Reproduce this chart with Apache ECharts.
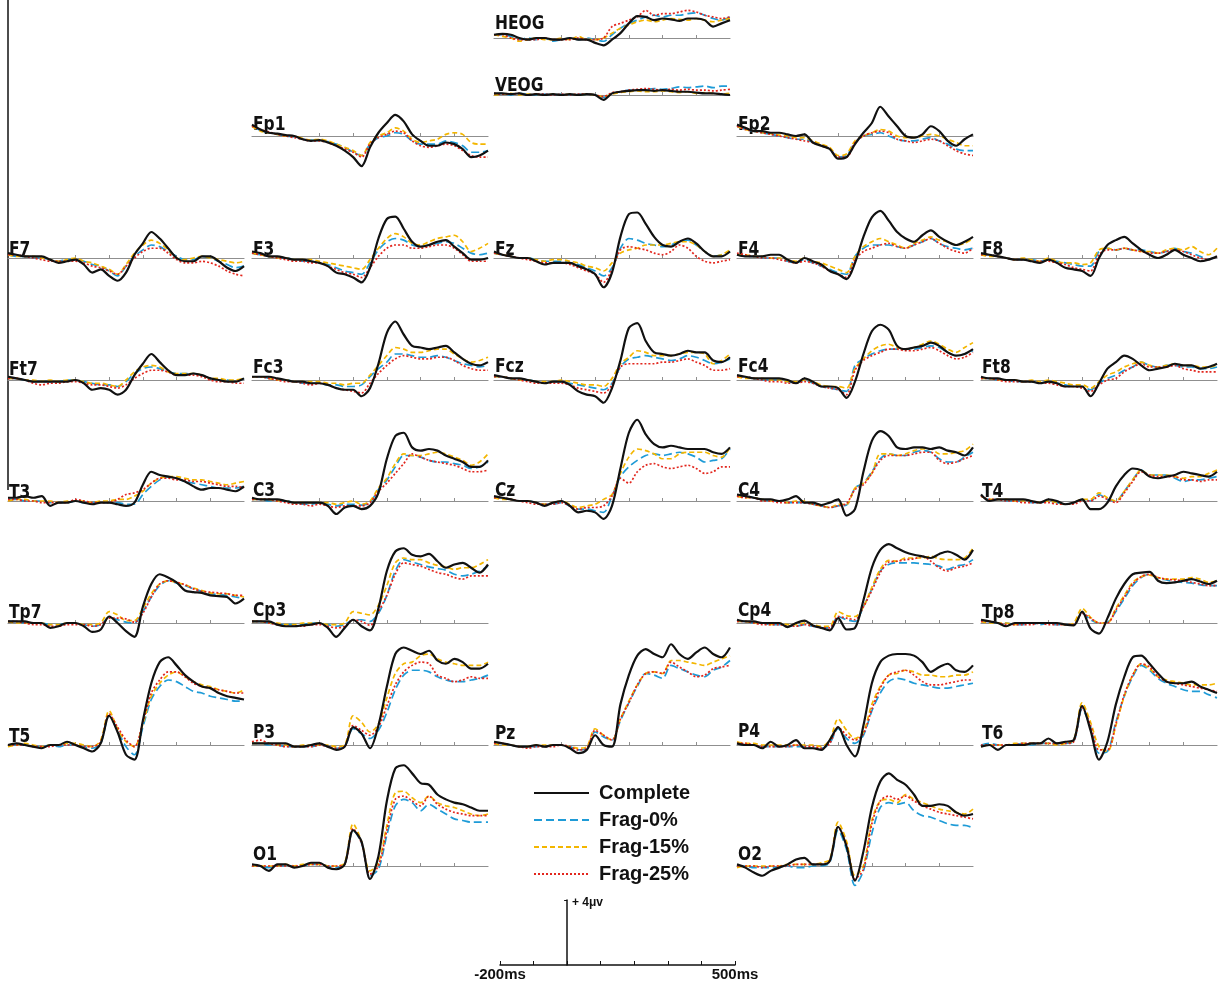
<!DOCTYPE html>
<html><head><meta charset="utf-8">
<script src="https://cdn.jsdelivr.net/npm/echarts@6/dist/echarts.min.js"></script>
<style>html,body{margin:0;padding:0;background:#fff}#c{width:1219px;height:985px}</style>
</head><body><div id="c"></div><script>
// time points (ms)
const times = [-200,-175,-150,-125,-100,-75,-50,-25,0,25,50,75,100,125,150,175,200,225,250,275,300,325,350,375,400,425,450,475,500];
const conditions = ['Complete','Frag-0%','Frag-15%','Frag-25%'];
// each channel: [Complete, Frag-0%, Frag-15%, Frag-25%] in microvolts
const HEOG = [
 [0.2,0.25,0.2,0.0,-0.1,0.0,0.0,-0.1,-0.1,0.0,-0.1,-0.1,-0.3,-0.45,-0.1,0.3,0.9,1.35,1.3,1.1,1.2,1.15,1.05,1.2,1.2,1.1,0.7,0.9,1.1],
 [0.2,0.2,0.1,-0.1,0.0,-0.1,0.0,-0.2,-0.1,0.0,-0.1,0.0,-0.1,-0.2,0.2,0.6,0.9,1.1,1.3,1.4,1.3,1.4,1.4,1.5,1.55,1.4,1.2,1.1,1.3],
 [0.2,0.1,0.0,-0.2,-0.1,0.0,-0.1,-0.1,0.0,-0.1,0.1,-0.1,-0.1,0.0,0.3,0.6,0.8,1.0,1.1,1.0,1.1,1.2,1.15,1.1,1.2,1.1,1.0,1.1,1.2],
 [0.2,0.2,0.0,-0.1,-0.1,-0.1,0.0,-0.1,-0.1,-0.1,0.0,-0.1,-0.1,0.0,0.7,0.9,1.1,1.3,1.7,1.4,1.5,1.5,1.6,1.7,1.6,1.4,1.3,1.2,1.3]];
const VEOG = [
 [0.1,0.1,0.05,0.1,0.0,0.05,0.0,0.05,0.0,0.05,0.0,0.05,0.0,-0.3,0.1,0.2,0.25,0.3,0.3,0.25,0.3,0.25,0.2,0.2,0.15,0.1,0.1,0.05,0.0],
 [0.05,0.1,0.0,0.1,0.05,0.0,0.05,0.0,0.05,0.0,0.05,0.0,0.0,-0.15,0.1,0.2,0.3,0.3,0.35,0.4,0.35,0.4,0.5,0.45,0.5,0.55,0.45,0.55,0.55],
 [0.0,0.05,0.1,0.0,0.05,0.05,0.0,0.05,0.0,0.05,0.0,0.05,0.0,-0.1,0.05,0.15,0.2,0.25,0.2,0.2,0.25,0.2,0.15,0.2,0.1,0.15,0.1,0.05,0.1],
 [0.1,0.05,0.05,0.1,0.0,0.05,0.05,0.0,0.05,0.0,0.05,0.05,0.0,-0.1,0.15,0.2,0.3,0.35,0.4,0.35,0.3,0.35,0.3,0.35,0.3,0.3,0.25,0.3,0.35]];
const Fp1 = [
 [0.7,0.4,0.2,0.15,0.05,0.0,-0.2,-0.3,-0.25,-0.4,-0.6,-0.9,-1.3,-1.85,-0.7,0.2,0.8,1.3,0.9,0.1,-0.3,-0.6,-0.6,-0.4,-0.5,-0.8,-1.3,-1.2,-0.9],
 [0.6,0.35,0.2,0.1,0.0,-0.05,-0.2,-0.25,-0.3,-0.35,-0.5,-0.7,-1.0,-1.2,-0.5,-0.1,0.0,0.2,0.1,-0.3,-0.5,-0.5,-0.5,-0.3,-0.4,-0.6,-1.0,-1.0,-0.9],
 [0.6,0.3,0.2,0.1,0.0,0.0,-0.15,-0.25,-0.2,-0.3,-0.5,-0.7,-0.9,-1.2,-0.4,0.0,0.2,0.5,0.3,-0.2,-0.4,-0.3,-0.2,0.1,0.2,0.1,-0.4,-0.5,-0.5],
 [0.6,0.4,0.25,0.1,0.0,-0.1,-0.2,-0.3,-0.3,-0.4,-0.6,-0.8,-1.0,-1.3,-0.5,-0.1,0.1,0.3,0.2,-0.3,-0.6,-0.7,-0.6,-0.5,-0.6,-0.9,-1.2,-1.3,-1.3]];
const Fp2 = [
 [0.7,0.5,0.3,0.3,0.2,0.2,0.1,0.0,0.1,-0.4,-0.6,-0.8,-1.4,-1.3,-0.5,0.2,0.8,1.8,1.2,0.6,0.0,-0.1,0.1,0.6,0.3,-0.3,-0.6,-0.2,0.1],
 [0.6,0.4,0.3,0.2,0.1,0.0,-0.1,-0.2,-0.2,-0.4,-0.6,-0.8,-1.3,-1.2,-0.4,0.0,0.1,0.2,0.0,-0.2,-0.3,-0.3,-0.2,-0.1,-0.3,-0.5,-0.8,-0.9,-0.9],
 [0.6,0.4,0.3,0.2,0.15,0.05,0.0,-0.1,-0.1,-0.3,-0.5,-0.7,-1.2,-1.1,-0.3,0.0,0.2,0.4,0.3,0.0,-0.1,-0.1,0.0,0.1,0.0,-0.2,-0.4,-0.6,-0.6],
 [0.6,0.4,0.3,0.2,0.1,0.0,-0.1,-0.2,-0.3,-0.4,-0.6,-0.8,-1.3,-1.3,-0.4,0.0,0.2,0.3,0.2,-0.2,-0.3,-0.4,-0.3,-0.2,-0.3,-0.6,-0.9,-1.1,-1.2]];
const F7 = [
 [0.3,0.2,0.1,0.1,0.1,-0.1,-0.3,-0.2,-0.1,-0.4,-0.9,-0.7,-1.1,-1.4,-0.9,0.2,0.9,1.6,1.2,0.6,0.0,-0.2,-0.2,0.1,0.1,-0.2,-0.6,-0.8,-0.5],
 [0.2,0.1,0.1,0.0,0.0,-0.1,-0.2,-0.1,-0.1,-0.2,-0.4,-0.5,-0.8,-1.1,-0.5,0.1,0.5,0.8,0.7,0.4,0.1,-0.1,-0.1,0.1,0.0,-0.2,-0.4,-0.6,-0.5],
 [0.2,0.1,0.1,0.1,0.0,-0.1,-0.2,-0.1,0.0,-0.2,-0.3,-0.5,-0.7,-1.0,-0.4,0.3,0.8,1.1,0.9,0.5,0.0,-0.1,0.0,0.1,0.0,-0.1,-0.2,-0.3,-0.2],
 [0.2,0.2,0.1,0.0,-0.1,-0.2,-0.2,-0.2,-0.2,-0.3,-0.5,-0.6,-0.8,-1.0,-0.5,0.0,0.4,0.6,0.6,0.3,-0.1,-0.3,-0.3,-0.2,-0.3,-0.5,-0.8,-1.0,-1.1]];
const F3 = [
 [0.4,0.3,0.1,0.1,0.0,-0.1,-0.1,-0.2,-0.3,-0.5,-0.9,-1.0,-1.2,-1.5,-0.6,1.2,2.4,2.55,1.8,1.0,0.7,0.8,1.0,1.1,0.7,0.3,-0.1,-0.1,0.0],
 [0.3,0.2,0.1,0.0,0.0,-0.1,-0.2,-0.2,-0.3,-0.4,-0.6,-0.8,-0.9,-1.0,-0.3,0.5,1.0,1.2,1.1,0.8,0.7,0.8,0.9,1.0,0.9,0.6,0.3,0.2,0.3],
 [0.3,0.2,0.1,0.0,0.0,-0.1,-0.1,-0.1,-0.2,-0.3,-0.4,-0.5,-0.6,-0.7,-0.1,0.6,1.2,1.5,1.3,0.9,0.8,1.0,1.2,1.3,1.4,1.0,0.4,0.6,0.9],
 [0.3,0.2,0.1,0.0,-0.1,-0.2,-0.2,-0.3,-0.3,-0.5,-0.7,-0.9,-1.0,-1.2,-0.6,0.1,0.6,0.8,0.8,0.6,0.6,0.7,0.8,0.8,0.6,0.2,-0.2,-0.2,-0.2]];
const Fz = [
 [0.4,0.2,0.1,0.0,0.0,-0.2,-0.4,-0.3,-0.3,-0.3,-0.5,-0.7,-1.0,-1.8,-0.9,1.3,2.7,2.8,2.1,1.3,0.8,0.7,1.0,1.2,0.9,0.4,0.1,0.1,0.4],
 [0.3,0.2,0.1,0.0,0.0,-0.1,-0.2,-0.2,-0.2,-0.3,-0.4,-0.6,-0.8,-1.1,-0.6,0.6,1.2,1.1,0.9,0.8,0.7,0.8,1.0,1.1,0.8,0.4,0.1,0.2,0.4],
 [0.3,0.2,0.1,0.0,0.0,-0.1,-0.2,-0.1,-0.1,-0.2,-0.3,-0.5,-0.6,-0.8,-0.3,0.3,0.5,0.6,0.8,0.8,0.8,0.9,1.0,1.0,0.8,0.4,0.1,0.2,0.5],
 [0.3,0.2,0.1,0.0,-0.1,-0.2,-0.3,-0.3,-0.3,-0.4,-0.6,-0.8,-1.0,-1.5,-0.7,0.5,0.7,0.6,0.5,0.3,0.2,0.4,0.8,0.6,0.1,-0.2,-0.3,-0.2,-0.1]];
const F4 = [
 [0.2,0.1,0.1,0.1,0.2,0.2,-0.1,-0.3,0.0,-0.2,-0.4,-0.8,-1.0,-1.3,-0.3,1.3,2.5,2.9,2.3,1.6,1.2,1.0,1.4,1.7,1.3,1.0,0.8,1.0,1.3],
 [0.2,0.1,0.1,0.0,0.0,0.0,-0.2,-0.3,-0.1,-0.3,-0.5,-0.7,-0.9,-1.0,0.1,0.6,0.8,0.8,0.8,0.7,0.6,0.8,1.0,1.2,0.9,0.7,0.6,0.5,0.6],
 [0.2,0.2,0.1,0.1,0.0,0.0,-0.1,-0.2,0.0,-0.2,-0.3,-0.5,-0.7,-0.9,0.1,0.7,1.0,1.2,1.0,0.8,0.6,0.9,1.1,1.3,1.1,1.0,0.8,0.9,1.2],
 [0.3,0.2,0.1,0.0,0.0,-0.1,-0.2,-0.3,-0.2,-0.3,-0.5,-0.8,-1.0,-1.2,-0.1,0.4,0.6,0.8,0.9,0.7,0.6,0.8,1.0,1.2,0.9,0.6,0.4,0.3,0.6]];
const F8 = [
 [0.3,0.2,0.1,0.0,-0.1,-0.1,-0.2,-0.3,-0.1,-0.3,-0.6,-0.7,-0.8,-1.1,0.0,0.8,1.1,1.3,0.9,0.5,0.2,0.0,0.2,0.5,0.2,0.0,-0.2,-0.1,0.1],
 [0.2,0.2,0.1,0.0,-0.1,-0.1,-0.1,-0.2,-0.1,-0.2,-0.3,-0.4,-0.5,-0.5,0.4,0.6,0.5,0.6,0.5,0.5,0.4,0.3,0.4,0.6,0.4,0.3,0.1,-0.1,0.1],
 [0.2,0.1,0.1,0.0,-0.1,0.0,-0.1,-0.2,0.0,-0.2,-0.3,-0.3,-0.4,-0.3,0.5,0.6,0.5,0.6,0.5,0.4,0.4,0.3,0.5,0.6,0.5,0.7,0.4,0.2,0.6],
 [0.2,0.2,0.1,0.0,-0.1,-0.1,-0.2,-0.2,-0.2,-0.3,-0.4,-0.6,-0.7,-0.8,0.2,0.5,0.5,0.6,0.5,0.4,0.3,0.3,0.4,0.5,0.4,0.2,0.0,-0.1,0.1]];
const Ft7 = [
 [0.2,0.1,0.0,-0.1,-0.1,-0.1,-0.1,-0.1,0.0,-0.2,-0.6,-0.5,-0.6,-0.9,-0.6,0.3,1.0,1.6,1.1,0.6,0.3,0.3,0.4,0.3,0.1,0.0,-0.1,-0.1,0.1],
 [0.1,0.1,0.0,-0.1,-0.1,-0.1,-0.1,0.0,0.0,-0.1,-0.2,-0.3,-0.3,-0.4,-0.1,0.4,0.7,0.8,0.7,0.5,0.4,0.4,0.4,0.3,0.1,0.0,0.0,-0.1,0.1],
 [0.1,0.1,0.0,0.0,-0.1,0.0,-0.1,0.0,0.0,-0.1,-0.2,-0.2,-0.3,-0.4,0.0,0.5,0.8,0.9,0.8,0.5,0.4,0.4,0.4,0.3,0.1,0.1,0.0,0.0,0.1],
 [0.1,0.1,0.0,-0.2,-0.3,-0.2,-0.2,-0.1,-0.1,-0.2,-0.3,-0.3,-0.4,-0.5,-0.3,0.1,0.4,0.6,0.6,0.5,0.3,0.3,0.3,0.2,0.0,-0.1,-0.1,-0.2,-0.2]];
const Fc3 = [
 [0.2,0.2,0.2,0.1,0.0,-0.1,-0.1,-0.2,-0.2,-0.3,-0.5,-0.6,-0.6,-1.0,-0.5,1.0,2.9,3.6,2.8,2.1,2.0,1.9,2.0,2.1,1.7,1.3,1.0,0.9,1.1],
 [0.2,0.2,0.1,0.0,0.0,-0.1,-0.2,-0.2,-0.2,-0.3,-0.3,-0.4,-0.4,-0.3,0.2,0.7,1.1,1.6,1.6,1.5,1.4,1.4,1.5,1.4,1.2,1.0,0.9,0.8,0.9],
 [0.2,0.2,0.1,0.0,0.0,-0.1,-0.1,-0.1,-0.1,-0.2,-0.2,-0.3,-0.2,-0.2,0.3,0.9,1.5,2.0,1.9,1.7,1.7,1.8,1.9,1.9,1.6,1.3,1.1,1.2,1.4],
 [0.2,0.2,0.1,0.0,-0.1,-0.1,-0.2,-0.3,-0.2,-0.3,-0.5,-0.6,-0.7,-0.8,-0.2,0.4,0.9,1.3,1.5,1.4,1.3,1.3,1.4,1.4,1.2,0.9,0.7,0.6,0.6]];
const Fcz = [
 [0.3,0.2,0.1,0.1,0.0,-0.1,-0.2,-0.1,-0.1,-0.3,-0.7,-0.9,-1.0,-1.4,-0.5,1.2,3.2,3.5,2.4,1.7,1.6,1.5,1.6,1.8,1.7,1.7,1.2,1.1,1.4],
 [0.2,0.2,0.1,0.0,0.0,-0.1,-0.2,-0.1,-0.1,-0.2,-0.3,-0.4,-0.5,-0.6,-0.2,0.8,1.3,1.4,1.5,1.4,1.3,1.2,1.3,1.5,1.4,1.2,1.0,1.1,1.3],
 [0.2,0.2,0.1,0.0,0.0,-0.1,-0.1,-0.1,0.0,-0.1,-0.2,-0.3,-0.3,-0.4,0.1,1.0,1.4,1.8,1.7,1.5,1.5,1.5,1.6,1.7,1.7,1.6,1.0,1.2,1.6],
 [0.2,0.2,0.1,0.0,-0.1,-0.2,-0.2,-0.2,-0.2,-0.3,-0.5,-0.6,-0.7,-0.8,-0.3,0.8,1.0,1.0,1.0,1.0,1.1,1.1,1.2,1.3,1.1,0.9,0.6,0.6,0.7]];
const Fc4 = [
 [0.3,0.2,0.1,0.1,0.1,0.1,0.0,-0.2,0.1,-0.1,-0.4,-0.4,-0.5,-1.1,-0.1,1.6,3.0,3.4,3.1,2.1,1.9,2.0,2.1,2.3,2.1,1.7,1.5,1.6,1.9],
 [0.2,0.2,0.1,0.0,0.0,0.0,-0.1,-0.2,0.0,-0.2,-0.4,-0.5,-0.6,-0.7,0.9,1.3,1.6,1.8,1.9,1.9,1.9,1.9,2.0,2.1,2.0,1.7,1.5,1.6,1.8],
 [0.2,0.1,0.1,0.1,0.0,0.0,-0.1,-0.1,0.0,-0.1,-0.3,-0.4,-0.4,-0.5,0.7,1.3,1.8,2.1,2.2,2.0,1.9,2.0,2.2,2.4,2.2,1.9,1.7,2.0,2.3],
 [0.2,0.2,0.1,0.0,-0.1,-0.1,-0.2,-0.2,-0.1,-0.2,-0.4,-0.5,-0.6,-0.9,0.6,1.2,1.5,1.7,1.9,1.9,1.8,1.8,1.9,2.0,1.8,1.5,1.3,1.4,1.7]];
const Ft8 = [
 [0.2,0.1,0.1,0.0,0.0,-0.1,-0.1,-0.2,-0.1,-0.2,-0.4,-0.4,-0.4,-1.0,-0.2,0.7,1.1,1.5,1.3,0.9,0.6,0.7,0.8,1.0,0.9,0.9,0.7,0.8,1.0],
 [0.1,0.1,0.0,0.0,-0.1,-0.1,-0.1,-0.2,-0.1,-0.2,-0.3,-0.4,-0.4,-0.6,-0.2,0.1,0.3,0.6,0.8,1.1,0.9,0.8,0.9,0.9,0.8,0.8,0.7,0.7,0.8],
 [0.1,0.1,0.0,0.0,0.0,-0.1,0.0,-0.1,0.0,-0.1,-0.2,-0.3,-0.3,-0.5,-0.1,0.3,0.5,0.8,1.0,1.1,0.9,0.8,0.9,1.0,0.9,0.9,0.8,0.8,0.9],
 [0.1,0.1,0.0,-0.1,-0.1,-0.1,-0.1,-0.2,-0.2,-0.3,-0.4,-0.4,-0.5,-0.7,-0.3,0.0,0.1,0.5,0.8,1.0,0.8,0.8,0.8,0.9,0.7,0.6,0.5,0.5,0.5]];
const T3 = [
 [0.2,0.2,0.3,0.2,0.3,-0.3,-0.1,-0.1,0.0,-0.1,-0.2,-0.1,-0.1,-0.2,-0.3,-0.1,1.0,1.8,1.6,1.5,1.4,1.2,0.9,0.7,0.8,0.8,0.7,0.6,0.9],
 [0.1,0.1,0.0,0.0,0.0,-0.1,-0.1,-0.1,0.0,-0.1,-0.1,-0.1,-0.1,-0.1,-0.2,-0.2,0.4,0.9,1.3,1.5,1.4,1.2,1.1,1.0,0.9,0.8,0.8,0.8,0.9],
 [0.0,0.1,0.1,0.0,0.0,0.0,-0.1,0.0,0.0,0.0,-0.1,0.0,0.0,0.1,0.1,0.3,0.6,1.1,1.4,1.5,1.5,1.4,1.3,1.3,1.2,1.1,1.0,1.1,1.2],
 [0.1,0.1,0.0,0.0,-0.1,-0.1,-0.1,-0.1,0.1,0.0,-0.1,-0.1,-0.1,0.1,0.4,0.5,0.7,1.1,1.4,1.4,1.3,1.3,1.2,1.2,1.1,1.0,0.9,0.9,0.8]];
const C3 = [
 [0.2,0.1,0.1,0.1,0.0,-0.1,-0.1,-0.1,-0.1,-0.3,-0.8,-0.4,-0.3,-0.5,-0.3,0.5,2.6,4.0,4.2,3.3,3.1,3.2,3.1,2.8,2.6,2.4,2.1,2.1,2.5],
 [0.1,0.1,0.0,0.0,0.0,-0.1,-0.2,-0.2,-0.1,-0.2,-0.3,-0.2,-0.2,-0.25,-0.1,0.7,1.3,2.1,2.8,2.8,2.7,2.5,2.4,2.4,2.3,2.2,2.0,2.1,2.4],
 [0.1,0.1,0.1,0.0,0.0,-0.1,-0.1,-0.1,-0.1,-0.1,-0.2,-0.1,0.0,-0.2,0.0,0.8,1.4,2.3,2.9,2.8,2.8,2.9,3.0,2.9,2.7,2.5,2.2,2.4,2.9],
 [0.1,0.1,0.1,0.0,-0.1,-0.2,-0.2,-0.3,-0.2,-0.3,-0.4,-0.3,-0.3,-0.3,-0.1,0.6,1.1,1.7,2.3,2.9,2.7,2.5,2.4,2.3,2.2,2.0,1.8,1.8,1.9]];
const Cz = [
 [0.3,0.2,0.1,0.0,0.0,-0.1,-0.3,-0.1,0.0,-0.3,-0.7,-0.6,-0.7,-1.1,-0.3,2.0,4.2,5.0,4.1,3.5,3.3,3.4,3.3,3.2,3.2,3.2,3.0,2.9,3.3],
 [0.2,0.2,0.1,0.0,0.0,-0.1,-0.2,-0.2,-0.1,-0.3,-0.5,-0.5,-0.6,-0.7,0.3,1.5,2.1,2.5,2.8,2.9,2.8,2.9,3.0,2.9,2.7,2.4,2.5,2.6,3.2],
 [0.2,0.1,0.1,0.0,0.0,-0.1,-0.2,-0.1,0.0,-0.2,-0.4,-0.3,-0.2,0.1,0.4,1.7,2.7,3.2,3.1,2.9,2.6,2.6,2.9,3.0,3.0,3.0,2.8,2.7,3.3],
 [0.2,0.2,0.1,0.0,-0.1,-0.2,-0.2,-0.2,-0.1,-0.3,-0.5,-0.4,-0.4,-0.3,0.3,1.4,1.1,1.8,2.2,2.3,2.1,2.0,2.1,2.2,2.0,1.7,1.8,2.1,2.1]];
const C4 = [
 [0.4,0.3,0.2,0.1,0.1,0.0,0.1,0.3,-0.1,-0.1,-0.25,-0.1,0.1,-0.9,-0.5,1.8,3.7,4.3,4.0,3.3,3.2,3.3,3.3,3.2,3.3,3.1,3.0,2.8,3.3],
 [0.3,0.3,0.2,0.1,0.0,0.0,-0.1,-0.1,-0.1,-0.2,-0.3,-0.4,-0.3,-0.25,0.8,1.1,1.8,2.6,2.9,2.8,2.8,3.0,3.1,3.0,2.6,2.4,2.4,2.7,3.0],
 [0.3,0.2,0.2,0.1,0.0,0.0,-0.1,0.0,0.0,-0.2,-0.3,-0.4,-0.2,-0.2,0.8,1.1,1.7,2.9,2.9,2.8,2.9,3.1,3.2,3.2,2.9,2.9,3.0,3.1,3.5],
 [0.3,0.2,0.2,0.0,0.0,-0.1,-0.1,-0.1,-0.1,-0.2,-0.3,-0.4,-0.3,-0.15,0.7,1.0,1.7,2.5,2.8,2.8,2.8,2.9,3.0,3.0,2.5,2.3,2.4,2.6,2.8]];
const T4 = [
 [0.4,0.0,0.1,0.1,0.1,0.1,0.0,-0.1,0.1,0.0,-0.2,-0.1,0.1,-0.5,-0.5,-0.1,0.9,1.6,2.0,1.9,1.5,1.4,1.5,1.6,1.8,1.7,1.6,1.5,1.8],
 [0.3,0.1,0.1,0.0,0.0,0.0,-0.1,-0.1,0.0,-0.1,-0.2,-0.1,0.1,0.0,0.4,0.1,0.0,0.6,1.3,1.9,1.6,1.6,1.6,1.4,1.2,1.3,1.3,1.4,1.5],
 [0.3,0.1,0.1,0.1,0.0,0.0,0.0,-0.1,0.0,-0.1,-0.2,-0.1,0.1,0.1,0.5,0.2,0.0,0.6,1.3,1.9,1.6,1.6,1.6,1.5,1.4,1.5,1.5,1.7,1.9],
 [0.3,0.1,0.1,0.0,0.0,-0.1,-0.1,-0.1,-0.1,-0.2,-0.2,-0.2,0.0,0.0,0.3,0.1,-0.1,0.5,1.2,1.8,1.6,1.5,1.5,1.5,1.3,1.3,1.2,1.3,1.3]];
const Tp7 = [
 [0.1,0.1,0.1,0.0,0.0,-0.3,-0.2,0.0,0.0,-0.2,-0.55,-0.4,0.4,0.0,-0.5,-0.85,1.0,2.4,3.0,2.8,2.5,2.0,1.9,1.85,1.7,1.65,1.6,1.2,1.5],
 [0.1,0.1,0.0,0.0,0.0,-0.1,-0.1,0.0,0.0,-0.1,-0.2,-0.1,0.35,0.2,0.05,0.0,0.7,1.6,2.3,2.6,2.45,2.3,2.1,1.95,1.8,1.75,1.7,1.6,1.5],
 [0.1,0.0,0.0,0.0,0.0,-0.1,-0.1,0.0,0.0,-0.1,-0.1,0.0,0.7,0.5,0.15,0.15,0.9,1.8,2.4,2.6,2.5,2.35,2.15,2.0,1.85,1.8,1.8,1.7,1.6],
 [0.1,0.1,0.0,-0.1,-0.1,-0.2,-0.2,-0.1,-0.1,-0.1,-0.2,-0.1,0.3,0.3,0.25,0.05,0.6,1.6,2.4,2.6,2.5,2.35,2.1,1.95,1.9,1.85,1.8,1.7,1.7]];
const Cp3 = [
 [0.1,0.1,0.1,-0.1,-0.2,-0.2,-0.15,-0.1,0.0,-0.3,-0.85,-0.3,0.2,-0.2,-0.45,0.9,3.2,4.4,4.6,4.2,4.1,4.25,3.8,3.4,3.6,3.7,3.4,3.1,3.6],
 [0.1,0.1,0.0,-0.1,-0.1,-0.1,-0.1,0.0,0.0,-0.1,-0.2,-0.1,0.2,0.2,0.1,0.6,1.7,3.2,3.9,3.75,3.6,3.45,3.35,3.25,3.0,2.9,3.0,3.2,3.5],
 [0.1,0.1,0.0,0.0,-0.1,-0.1,0.0,0.0,0.0,-0.1,-0.1,0.0,0.7,0.6,0.5,1.1,2.3,3.7,4.0,3.9,3.9,3.7,3.55,3.45,3.3,3.4,3.4,3.6,3.9],
 [0.1,0.1,0.0,-0.1,-0.2,-0.2,-0.2,-0.1,-0.1,-0.2,-0.3,-0.2,0.2,0.1,-0.15,0.7,1.7,3.0,3.7,3.6,3.5,3.3,3.1,3.0,2.8,2.7,2.9,2.9,2.9]];
const Cp4 = [
 [0.2,0.1,0.1,0.0,0.0,0.0,-0.25,0.0,0.15,-0.15,-0.3,-0.45,0.3,-0.4,-0.3,1.4,3.4,4.5,4.85,4.6,4.35,4.2,4.1,4.0,4.25,4.4,4.2,3.9,4.5],
 [0.1,0.1,0.0,0.0,-0.1,-0.1,-0.2,-0.2,-0.1,-0.2,-0.3,-0.3,0.4,0.2,0.1,1.0,2.1,3.2,3.6,3.7,3.7,3.7,3.65,3.6,3.5,3.3,3.5,3.6,3.9],
 [0.1,0.1,0.0,0.0,-0.1,0.0,-0.1,-0.1,0.0,-0.1,-0.2,-0.2,0.7,0.45,0.4,1.0,2.2,3.3,3.85,3.8,4.0,4.0,4.0,4.1,3.95,3.9,3.9,4.0,4.6],
 [0.1,0.1,0.0,-0.1,-0.1,-0.1,-0.2,-0.2,-0.1,-0.2,-0.3,-0.3,0.4,0.3,0.2,1.0,2.0,3.1,3.75,3.8,3.9,3.95,4.1,3.8,3.4,3.2,3.4,3.5,3.7]];
const Tp8 = [
 [0.2,0.1,0.0,-0.2,0.0,0.0,0.0,0.0,0.0,0.0,-0.1,-0.15,0.7,-0.35,-0.65,0.3,1.5,2.4,3.0,3.1,3.15,2.6,2.45,2.5,2.6,2.7,2.55,2.4,2.6],
 [0.1,0.1,0.0,0.0,-0.1,-0.1,0.0,-0.1,0.0,-0.1,-0.1,-0.1,0.6,0.2,0.0,0.05,0.7,1.5,2.3,2.8,3.0,2.75,2.65,2.55,2.5,2.45,2.35,2.3,2.3],
 [0.1,0.0,0.0,0.0,-0.1,0.0,0.0,0.0,0.0,0.0,-0.1,0.0,0.9,0.35,0.0,0.0,0.9,1.7,2.5,2.85,2.95,2.8,2.7,2.7,2.7,2.8,2.7,2.5,2.6],
 [0.1,0.1,0.0,-0.1,-0.1,-0.1,-0.1,0.0,-0.1,-0.1,-0.1,-0.1,0.6,0.3,0.0,0.0,0.8,1.6,2.4,2.85,3.0,2.8,2.7,2.65,2.6,2.5,2.4,2.3,2.3]];
const T5 = [
 [0.0,0.1,0.0,-0.1,-0.2,0.0,0.0,0.2,0.0,-0.2,-0.4,0.1,1.8,0.8,-0.6,-0.9,1.5,3.8,5.1,5.4,4.9,4.3,3.9,3.6,3.5,3.2,3.0,2.9,2.8],
 [0.0,0.0,0.0,-0.1,-0.1,0.0,-0.1,0.0,0.0,-0.1,-0.2,0.1,1.8,0.9,-0.1,-0.6,1.1,2.8,3.6,4.0,3.9,3.6,3.3,3.2,3.0,2.9,2.8,2.7,2.7],
 [-0.1,0.0,0.1,0.0,-0.1,0.0,0.0,0.1,0.1,0.0,-0.1,0.3,2.1,1.0,0.2,-0.1,1.3,3.0,3.8,4.3,4.5,4.2,3.9,3.7,3.6,3.4,3.3,3.2,3.4],
 [0.0,0.0,0.0,-0.1,-0.1,-0.1,0.0,0.0,0.0,-0.1,-0.1,0.2,1.9,1.1,0.3,-0.1,1.4,3.2,4.0,4.5,4.5,4.2,3.8,3.6,3.5,3.4,3.3,3.2,3.2]];
const P3 = [
 [0.1,0.1,0.1,0.1,0.1,-0.1,-0.1,0.0,0.1,-0.1,-0.3,-0.1,1.1,0.7,-0.2,1.2,3.6,5.6,6.0,5.8,5.6,5.8,5.2,5.0,5.3,5.1,4.7,4.7,5.0],
 [0.1,0.1,0.0,0.0,-0.1,-0.1,-0.1,-0.1,0.0,-0.1,-0.2,-0.1,1.0,0.7,0.4,0.9,2.0,3.4,4.3,4.6,4.6,4.5,4.2,4.0,3.9,3.9,4.0,4.1,4.3],
 [0.1,0.1,0.1,0.0,0.0,-0.1,0.0,0.0,0.0,0.0,-0.1,0.0,1.8,1.4,0.8,1.3,2.9,4.4,5.0,5.1,5.5,5.6,5.3,5.1,5.0,4.9,4.9,4.9,5.1],
 [0.2,0.3,0.1,0.0,-0.1,-0.1,-0.1,-0.1,0.0,-0.1,-0.2,-0.1,1.2,0.9,0.6,1.1,2.4,3.7,4.5,4.9,5.1,5.0,4.3,4.1,3.9,4.0,4.2,4.1,4.1]];
const Pz = [
 [0.2,0.1,0.0,-0.1,-0.1,0.0,-0.1,0.0,0.0,-0.2,-0.5,-0.3,0.6,0.0,-0.1,2.5,4.3,5.5,5.9,5.6,5.4,6.2,5.6,5.3,5.7,6.0,5.6,5.4,6.0],
 [0.1,0.1,0.0,-0.1,-0.1,-0.1,-0.1,0.0,0.0,-0.1,-0.3,-0.2,0.8,0.5,0.3,1.5,2.6,3.6,4.4,4.3,4.1,4.9,4.7,4.5,4.3,4.2,4.6,4.8,5.2],
 [0.1,0.0,0.0,-0.1,-0.1,0.0,0.0,0.0,0.0,-0.1,-0.2,-0.1,1.0,0.6,0.3,1.6,2.7,3.7,4.4,4.5,4.4,5.2,5.2,5.1,5.0,4.9,5.1,5.3,5.5],
 [0.1,0.1,0.0,-0.1,-0.2,-0.1,-0.1,-0.1,0.0,-0.1,-0.3,-0.2,0.9,0.6,0.3,1.6,2.6,3.7,4.4,4.5,4.4,5.1,4.8,4.5,4.2,4.3,4.7,4.8,4.9]];
const P4 = [
 [0.1,0.0,0.0,-0.2,0.2,-0.1,0.0,0.3,-0.2,-0.2,-0.3,0.3,1.1,0.0,-0.7,1.2,3.8,5.1,5.5,5.6,5.6,5.5,5.1,4.5,4.8,5.0,4.6,4.5,4.9],
 [0.1,0.0,0.0,-0.1,-0.1,-0.1,-0.1,-0.1,-0.1,-0.2,-0.2,0.1,1.0,0.4,0.1,0.6,2.1,3.2,3.9,4.1,4.0,3.8,3.7,3.6,3.5,3.5,3.6,3.7,3.8],
 [0.2,0.1,0.1,0.0,0.0,0.0,0.0,0.0,0.0,0.0,-0.1,0.3,1.6,0.9,0.4,0.8,2.5,3.6,4.3,4.4,4.6,4.5,4.3,4.3,4.2,4.2,4.3,4.3,4.5],
 [0.1,0.1,0.0,-0.1,-0.1,-0.1,-0.1,0.0,-0.1,-0.1,-0.2,0.1,1.1,0.6,0.3,0.7,2.2,3.5,4.3,4.5,4.6,4.3,3.9,3.7,3.7,3.8,3.9,4.0,4.0]];
const T6 = [
 [-0.1,0.0,-0.3,0.0,0.0,0.0,0.1,0.1,0.4,0.1,0.2,0.3,2.4,0.9,-0.9,0.2,2.5,4.2,5.4,5.5,5.0,4.4,3.9,3.8,3.8,3.9,3.6,3.4,3.2],
 [0.0,0.1,0.0,0.0,0.0,0.1,0.0,0.1,0.1,0.1,0.1,0.2,2.2,1.1,-0.5,-0.4,1.4,3.0,4.2,4.9,4.6,4.1,3.8,3.6,3.4,3.3,3.3,3.1,2.9],
 [-0.1,0.0,0.0,0.0,0.1,0.1,0.1,0.1,0.1,0.0,0.1,0.3,2.6,1.4,-0.1,-0.4,1.2,3.0,4.3,5.0,4.7,4.2,4.0,3.9,3.8,3.7,3.7,3.7,3.8],
 [0.0,0.0,0.0,0.0,0.0,0.1,0.1,0.1,0.1,0.1,0.1,0.2,2.3,1.2,-0.3,-0.3,1.3,3.1,4.3,5.0,4.8,4.2,3.9,3.8,3.7,3.6,3.5,3.4,3.3]];
const O1 = [
 [0.1,0.0,-0.3,0.1,0.1,-0.1,0.0,0.2,0.2,-0.1,-0.2,0.1,2.2,1.5,-0.8,0.6,4.0,6.0,6.2,5.7,5.1,5.0,4.4,4.1,3.9,3.8,3.6,3.4,3.4],
 [0.0,0.0,-0.1,0.0,0.0,0.0,0.0,0.1,0.1,0.0,-0.1,0.1,2.2,1.4,-0.6,-0.2,1.9,3.7,4.1,3.9,3.4,3.8,3.5,3.2,2.9,2.8,2.7,2.7,2.7],
 [0.0,0.0,0.0,0.0,0.1,0.0,0.1,0.1,0.1,0.0,0.0,0.2,2.6,1.5,-0.3,0.2,2.5,4.5,4.6,4.2,3.9,4.3,3.9,3.7,3.6,3.4,3.2,3.1,3.2],
 [0.0,0.0,0.0,0.0,0.0,0.0,0.0,0.1,0.1,0.0,0.0,0.1,2.3,1.4,-0.5,0.0,2.2,4.1,4.3,4.0,3.7,4.3,3.8,3.5,3.3,3.2,3.1,3.1,3.1]];
const O2 = [
 [0.1,-0.1,-0.4,-0.6,-0.3,-0.1,0.1,0.4,0.5,0.1,0.1,0.3,2.4,1.2,-0.9,0.9,3.6,5.2,5.7,5.3,5.0,4.4,3.7,3.7,3.8,3.7,3.3,3.1,3.2],
 [0.0,0.0,-0.1,-0.1,-0.1,-0.1,0.0,-0.1,-0.1,0.0,0.0,0.2,2.2,1.0,-1.2,-0.3,2.0,3.6,3.9,3.8,3.9,3.4,3.1,3.0,2.8,2.6,2.5,2.5,2.35],
 [-0.1,0.0,0.0,0.0,0.0,0.0,0.1,0.1,0.1,0.1,0.2,0.4,2.7,1.5,-0.6,0.0,2.8,4.0,4.1,3.9,4.4,4.1,3.9,3.7,3.5,3.4,3.3,3.2,3.5],
 [0.0,0.0,0.0,-0.1,0.0,0.0,0.0,0.1,0.1,0.1,0.1,0.3,2.4,1.3,-0.8,-0.2,2.6,4.0,4.3,4.1,4.3,4.0,3.7,3.5,3.3,3.2,3.1,3.0,2.9]];

const channelNames = ['HEOG','VEOG','Fp1','Fp2','F7','F3','Fz','F4','F8','Ft7','Fc3','Fcz','Fc4','Ft8','T3','C3','Cz','C4','T4','Tp7','Cp3','Cp4','Tp8','T5','P3','Pz','P4','T6','O1','O2'];
const channelData = [HEOG,VEOG,Fp1,Fp2,F7,F3,Fz,F4,F8,Ft7,Fc3,Fcz,Fc4,Ft8,T3,C3,Cz,C4,T4,Tp7,Cp3,Cp4,Tp8,T5,P3,Pz,P4,T6,O1,O2];

// ---- layout (pixels) ----
const colLeft = [8, 252, 494, 737, 981];
const panelWidth = 236;
const pxPerUv = 16.25;
const channelCol  = [2,2,1,3, 0,1,2,3,4, 0,1,2,3,4, 0,1,2,3,4, 0,1,3,4, 0,1,2,3,4, 1,3];
const channelBase = [38,95,136,136, 258,258,258,258,258, 380,380,380,380,380, 501,501,501,501,501, 623,623,623,623, 745,745,745,745,745, 866,866];
const labelBottom = [30,92,131,131, 256,256,256,256,256, 376,374,373,373,374, 499,497,497,497,498, 619,617,617,619, 743,739,740,738,740, 861,861];

const lineStyles = [
  {color:'#111111', width:2.2, type:'solid'},
  {color:'#1e9bd7', width:1.7, type:[8,4]},
  {color:'#f3b600', width:1.7, type:[5,3]},
  {color:'#e2261d', width:1.7, type:[2,2]}
];
const labelFont = 'bold 20px "Liberation Sans Narrow", "DejaVu Sans Condensed", "Liberation Sans", sans-serif';

const grid = [], xAxis = [], yAxis = [], series = [], graphic = [];
channelNames.forEach((name, i) => {
  const base = channelBase[i];
  const left = colLeft[channelCol[i]];
  const yTop = Math.min(7, Math.floor(base / pxPerUv));
  grid.push({left: left, top: base - yTop * pxPerUv, width: panelWidth, height: (yTop + 3) * pxPerUv});
  xAxis.push({type:'value', gridIndex:i, min:-200, max:500, interval:100,
    axisLine:{show:true, onZero:true, lineStyle:{color:'#8f8f8f', width:1.2}},
    axisTick:{show:true, inside:true, length:3, customValues:[0,100,200,300,400], lineStyle:{color:'#8f8f8f', width:1}},
    axisLabel:{show:false}, splitLine:{show:false}});
  yAxis.push({type:'value', gridIndex:i, min:-3, max:yTop, show:false});
  [1,2,3,0].forEach(k => {
    series.push({name: conditions[k], type:'line', xAxisIndex:i, yAxisIndex:i,
      data: times.map((t, j) => [t, channelData[i][k][j]]),
      symbol:'none', showSymbol:false, smooth:0.3, silent:true,
      color: lineStyles[k].color,
      z: k === 0 ? 4 : 3, lineStyle: lineStyles[k]});
  });
  graphic.push({type:'text', x: left + 1, y: labelBottom[i] + 4, silent:true, scaleX:0.86,
    style:{text:name, font:labelFont, fill:'#111', verticalAlign:'bottom', align:'left'}});
});

// scale bar grid
const sb = channelNames.length;
grid.push({left:500, top:900, width:235, height:65});
xAxis.push({type:'value', gridIndex:sb, min:-200, max:500, interval:100, position:'bottom',
  axisLine:{show:true, onZero:false, lineStyle:{color:'#111', width:1.5}},
  axisTick:{show:true, inside:true, length:4, lineStyle:{color:'#111', width:1}},
  axisLabel:{show:true, customValues:[-200,500], formatter: v => v + 'ms', margin:2,
    fontSize:15, fontWeight:'bold', color:'#111', fontFamily:'"Liberation Sans", Arial, sans-serif'},
  splitLine:{show:false}});
yAxis.push({type:'value', gridIndex:sb, min:0, max:4, interval:4, position:'left',
  axisLine:{show:true, onZero:true, lineStyle:{color:'#111', width:1.5}},
  axisTick:{show:true, inside:false, length:3, customValues:[4], lineStyle:{color:'#111'}},
  axisLabel:{show:false},
  splitLine:{show:false}});
graphic.push({type:'text', x:572, y:903, silent:true,
  style:{text:'+ 4μv', font:'bold 12px "Liberation Sans", Arial, sans-serif', fill:'#111', verticalAlign:'middle', align:'left'}});

graphic.push({type:'line', silent:true, shape:{x1:8, y1:0, x2:8, y2:490}, style:{stroke:'#111', lineWidth:1.5}});

const chart = echarts.init(document.getElementById('c'), null, {renderer:'canvas'});
chart.setOption({
  animation:false,
  backgroundColor:'#ffffff',
  grid, xAxis, yAxis, series, graphic,
  legend:{data: conditions, orient:'vertical', left:528, top:778, itemWidth:55, itemHeight:14, itemGap:7,
    selectedMode:false, itemStyle:{opacity:0},
    textStyle:{fontSize:20, fontWeight:'bold', color:'#111', fontFamily:'"Liberation Sans", Arial, sans-serif', padding:[0,0,0,5]}}
});
</script></body></html>
